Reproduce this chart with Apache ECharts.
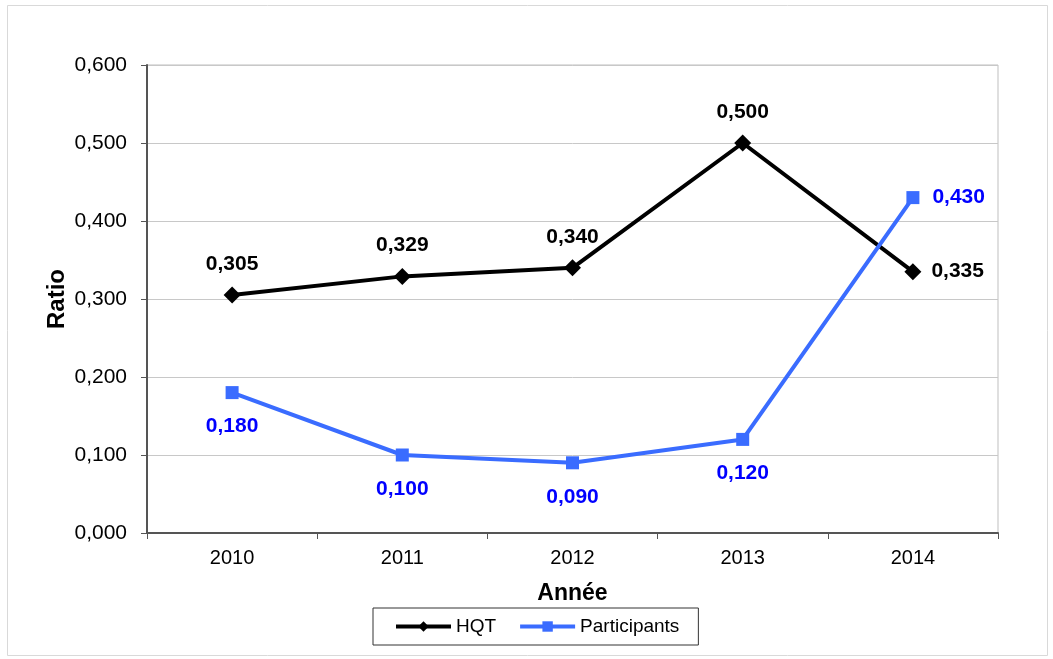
<!DOCTYPE html>
<html lang="fr">
<head>
    <meta charset="UTF-8">
    <title>Ratio HQT / Participants</title>
    <script src="https://cdn.jsdelivr.net/npm/echarts@6/dist/echarts.min.js"></script>
    <style>
        html, body { margin: 0; padding: 0; background: #fff; }
        #chart { width: 1053px; height: 659px; }
    </style>
</head>
<body>
<div id="chart"></div>
<script type="text/javascript">
    // données
    var annees = ['2010', '2011', '2012', '2013', '2014'];
    var hqt = [0.305, 0.329, 0.340, 0.500, 0.335];
    var participants = [0.180, 0.100, 0.090, 0.120, 0.430];

    function virgule(v) {
        return v.toFixed(3).replace('.', ',');
    }

    var police = '"Liberation Sans", Arial, sans-serif';

    // dernier point : étiquette à droite
    function donnees(vals, posDefaut, distDroite) {
        return vals.map(function (v, i) {
            if (i === vals.length - 1) {
                return { value: v, label: { position: 'right', distance: distDroite } };
            }
            return { value: v, label: { position: posDefaut } };
        });
    }

    var chart = echarts.init(document.getElementById('chart'));
    var option = {
        animation: false,
        backgroundColor: '#fff',
        textStyle: { fontFamily: police },
        graphic: [{
            type: 'rect',
            shape: { x: 7.5, y: 5.5, width: 1040, height: 650 },
            style: { fill: null, stroke: '#d9d9d9', lineWidth: 1 }
        }],
        grid: {
            left: 147, right: 55, top: 65, bottom: 126,
            show: true,
            borderColor: '#bfbfbf',
            borderWidth: 1
        },
        legend: {
            top: 608,
            left: 373,
            itemWidth: 55,
            itemHeight: 13,
            itemGap: 22,
            padding: [9, 19, 9, 21],
            borderColor: '#333',
            borderWidth: 1,
            borderRadius: 0,
            lineStyle: { width: 4 },
            textStyle: { fontSize: 19, color: '#000', fontFamily: police },
            data: ['HQT', 'Participants']
        },
        xAxis: {
            type: 'category',
            data: annees,
            boundaryGap: true,
            name: 'Année',
            nameLocation: 'middle',
            nameGap: 49,
            nameMoveOverlap: false,
            nameTextStyle: { fontSize: 23, fontWeight: 'bold', color: '#000', fontFamily: police },
            axisLine: { lineStyle: { color: '#555', width: 2 } },
            axisTick: { show: true, length: 6, lineStyle: { color: '#555', width: 1 } },
            axisLabel: { fontSize: 20, color: '#000', margin: 15, fontFamily: police },
            splitLine: { show: false }
        },
        yAxis: {
            type: 'value',
            min: 0,
            max: 0.6,
            interval: 0.1,
            name: 'Ratio',
            nameLocation: 'middle',
            nameGap: 78,
            nameMoveOverlap: false,
            nameTextStyle: { fontSize: 24, fontWeight: 'bold', color: '#000', fontFamily: police },
            axisLine: { show: true, lineStyle: { color: '#555', width: 2 } },
            axisTick: { show: true, length: 6, lineStyle: { color: '#555', width: 1 } },
            axisLabel: { fontSize: 21, color: '#000', margin: 20, fontFamily: police, formatter: virgule },
            splitLine: { lineStyle: { color: '#c8c8c8', width: 1 } }
        },
        series: [
            {
                name: 'HQT',
                type: 'line',
                data: donnees(hqt, 'top', 10),
                symbol: 'diamond',
                symbolSize: 17,
                itemStyle: { color: '#000' },
                lineStyle: { color: '#000', width: 4 },
                label: {
                    show: true,
                    distance: 12,
                    fontSize: 21,
                    fontWeight: 'bold',
                    color: '#000',
                    fontFamily: police,
                    formatter: function (p) { return virgule(p.value); }
                }
            },
            {
                name: 'Participants',
                type: 'line',
                data: donnees(participants, 'bottom', 13),
                symbol: 'rect',
                symbolSize: 13,
                itemStyle: { color: '#3a6cff' },
                lineStyle: { color: '#3a6cff', width: 4 },
                label: {
                    show: true,
                    distance: 17,
                    fontSize: 21,
                    fontWeight: 'bold',
                    color: '#0000ff',
                    fontFamily: police,
                    formatter: function (p) { return virgule(p.value); }
                }
            }
        ]
    };
    chart.setOption(option);
</script>
</body>
</html>
